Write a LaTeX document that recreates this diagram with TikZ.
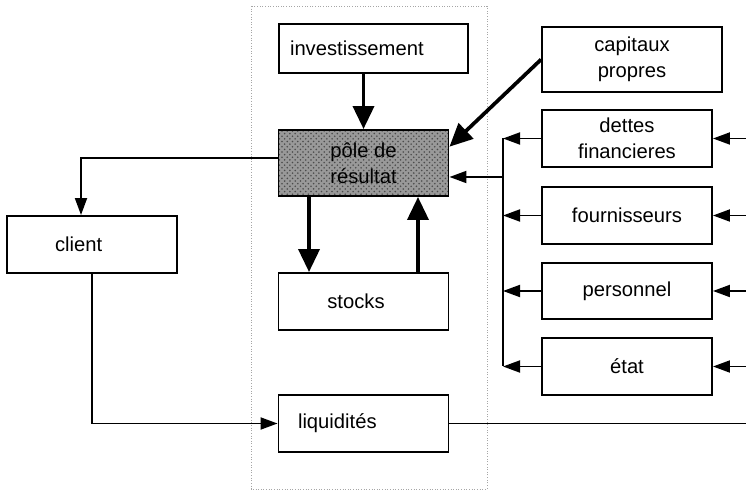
\documentclass[tikz,border=0pt]{standalone}
\usepackage{fontspec}
\setmainfont{Liberation Sans}
\usetikzlibrary{positioning,arrows.meta,calc,patterns}

\begin{document}
\begin{tikzpicture}[x=0.02cm, y=-0.02cm, every node/.style={font=\fontsize{11.5}{15}\selectfont}]
  \tikzset{
    box/.style={draw, line width=1.1pt, minimum width=3.4cm, minimum height=1.14cm, inner sep=0pt, align=center},
    thinarrow/.style={line width=1.05pt, -{Triangle[length=0.34cm, width=0.24cm]}},
    thickarrow/.style={line width=2.1pt, -{Triangle[length=0.46cm, width=0.42cm]}}
  }
  \useasboundingbox (0,0) rectangle (746,492);

  \draw[gray!70, densely dotted, line width=0.5pt] (251,6) rectangle (487,489);

  \node[box, minimum width=3.78cm, minimum height=0.98cm, text width=3.34cm, inner xsep=0.22cm, align=left] (inv) at (373.5,48.5) {investissement};
  \node[box, minimum height=1.32cm, preaction={fill=black!40}, pattern=crosshatch dots, pattern color=black!70] (pole) at (363.5,163) {p\^ole de\\r\'esultat};
  \node[box] (stocks) at (363.5,301.5) {stocks\hspace*{0.3cm}};
  \node[box, text width=2.62cm, inner xsep=0.38cm, align=left] (liq) at (363.5,423.5) {liquidit\'es};
  \node[box, text width=1.48cm, inner xsep=0.96cm, align=left] (client) at (92,244.5) {client};

  \node[box, minimum width=3.6cm, minimum height=1.3cm] (capitaux) at (632,59.5) {capitaux\\propres};
  \node[box] (dettes) at (627,138.5) {dettes\\financieres};
  \node[box] (fourn) at (627,215.5) {fournisseurs};
  \node[box, minimum height=1.12cm] (perso) at (627,291) {personnel};
  \node[box] (etat) at (627,366.5) {\'etat};

  \coordinate (bus) at (503,177);
  \coordinate (edge) at (746,0);

  \draw[thickarrow] (inv.south -| pole.north) -- (pole.north);
  \draw[thickarrow] (capitaux.west) -- ($(pole.north east)!0.26!(pole.south east)$);
  \draw[thickarrow] ([xshift=-1.09cm]pole.south) -- ([xshift=-1.09cm]stocks.north);
  \draw[thickarrow] ([xshift=1.09cm]stocks.north) -- ([xshift=1.09cm]pole.south);

  \draw[line width=1.05pt] (dettes.west -| bus) -- (etat.west -| bus);
  \draw[thinarrow] (bus) -- (bus -| pole.east);
  \foreach \n in {dettes,fourn,perso,etat} {
    \draw[thinarrow] (\n.west) -- (\n.west -| bus);
    \draw[thinarrow] (\n.east -| edge) -- (\n.east);
  }

  \draw[thinarrow] ([yshift=0.1cm]pole.west) -| ([xshift=-0.22cm]client.north);
  \draw[thinarrow] (client.south) |- (liq.west);
  \draw[line width=1.05pt] (liq.east) -- (liq.east -| edge);
\end{tikzpicture}
\end{document}
